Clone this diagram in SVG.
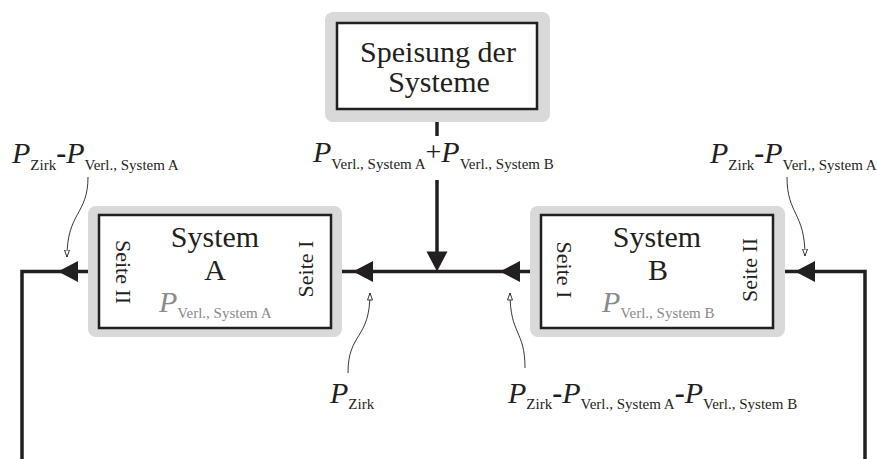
<svg xmlns="http://www.w3.org/2000/svg" width="877" height="459" viewBox="0 0 877 459" font-family="'Liberation Serif', 'DejaVu Serif', serif">
<style>
text, tspan{font-family:'Liberation Serif','DejaVu Serif',serif}
text{fill:#231f20}
.big{font-size:30px}
.lbl{font-size:22px}
.it{font-style:italic;font-size:30px}
.sub{font-size:15px}
.hy{font-weight:bold;font-size:30px}
.pl{font-size:28px}
.gr{fill:#8a8a8a}
.halo{fill:#d9d9d9}
.box{fill:#fff;stroke:#231f20;stroke-width:2.5}
.ln{fill:none;stroke:#231f20;stroke-width:3.5}
.thin{fill:none;stroke:#231f20;stroke-width:0.9;marker-end:url(#open)}
.ah{fill:#231f20}
</style>
<defs>
<polygon id="ahL" points="0,0 20,-10.5 20,10.5"/>
<marker id="open" viewBox="0 0 8 6" refX="7.5" refY="3" markerWidth="8" markerHeight="6" markerUnits="userSpaceOnUse" orient="auto">
<path d="M0.5,0.5 L7.5,3 L0.5,5.5 Z" fill="#fff" stroke="#231f20" stroke-width="0.9"/>
</marker>
</defs>

<g id="connectors">
<path class="ln" d="M437,110 V136"/>
<path class="ln" d="M437,180 V252"/>
<path class="ln" d="M530,271.5 H342"/>
<path class="ln" d="M89,271.5 H22 V459"/>
<path class="ln" d="M785,271.5 H865 V459"/>
<use href="#ahL" class="ah" transform="translate(437,271.5) rotate(-90)"/>
<use href="#ahL" class="ah" transform="translate(353,271.5)"/>
<use href="#ahL" class="ah" transform="translate(500,271.5)"/>
<use href="#ahL" class="ah" transform="translate(58,271.5)"/>
<use href="#ahL" class="ah" transform="translate(795,271.5)"/>
<path class="thin" d="M88,177 C88,215 67,212 67,257"/>
<path class="thin" d="M787,177 C787,215 805,212 805,256"/>
<path class="thin" d="M348,373 C348,332 370,340 370,293"/>
<path class="thin" d="M525,368 C525,330 510,335 510,293"/>
</g>

<g id="speisung">
<rect class="halo" x="325" y="12" width="225" height="110" rx="8"/>
<rect class="box" x="337" y="23" width="200" height="86"/>
<text class="big" x="438" y="62" text-anchor="middle">Speisung der</text>
<text class="big" x="439" y="92" text-anchor="middle">Systeme</text>
</g>

<g id="systemA">
<rect class="halo" x="88" y="206" width="254" height="131" rx="8"/>
<rect class="box" x="99" y="215" width="232" height="113"/>
<text class="big" x="215" y="247" text-anchor="middle">System</text>
<text class="big" x="215" y="280" text-anchor="middle">A</text>
<text class="lbl" text-anchor="middle" transform="translate(116,272) rotate(90)">Seite II</text>
<text class="lbl" text-anchor="middle" transform="translate(313,269) rotate(-90)">Seite I</text>
<text class="gr" x="159" y="312"><tspan class="it gr">P</tspan><tspan class="sub gr" dy="6">Verl., System A</tspan></text>
</g>

<g id="systemB">
<rect class="halo" x="530" y="206" width="255" height="131" rx="8"/>
<rect class="box" x="541" y="215" width="232" height="113"/>
<text class="big" x="657" y="247" text-anchor="middle">System</text>
<text class="big" x="658" y="280" text-anchor="middle">B</text>
<text class="lbl" text-anchor="middle" transform="translate(557,270) rotate(90)">Seite I</text>
<text class="lbl" text-anchor="middle" transform="translate(757,270) rotate(-90)">Seite II</text>
<text class="gr" x="602" y="312"><tspan class="it gr">P</tspan><tspan class="sub gr" dy="6">Verl., System B</tspan></text>
</g>

<g id="labels">
<text x="12" y="163"><tspan class="it">P</tspan><tspan class="sub" dy="7">Zirk</tspan><tspan class="hy" dy="-7">-</tspan><tspan class="it">P</tspan><tspan class="sub" dy="7">Verl., System A</tspan></text>
<text x="710" y="163"><tspan class="it">P</tspan><tspan class="sub" dy="7">Zirk</tspan><tspan class="hy" dy="-7">-</tspan><tspan class="it">P</tspan><tspan class="sub" dy="7">Verl., System A</tspan></text>
<text x="313" y="162"><tspan class="it">P</tspan><tspan class="sub" dy="7">Verl., System A</tspan><tspan class="pl" dy="-8">+</tspan><tspan class="it" dy="1">P</tspan><tspan class="sub" dy="7">Verl., System B</tspan></text>
<text x="330" y="403"><tspan class="it">P</tspan><tspan class="sub" dy="6">Zirk</tspan></text>
<text x="508" y="403"><tspan class="it">P</tspan><tspan class="sub" dy="6">Zirk</tspan><tspan class="hy" dy="-6">-</tspan><tspan class="it">P</tspan><tspan class="sub" dy="6">Verl., System A</tspan><tspan class="hy" dy="-6">-</tspan><tspan class="it">P</tspan><tspan class="sub" dy="6">Verl., System B</tspan></text>
</g>
</svg>
